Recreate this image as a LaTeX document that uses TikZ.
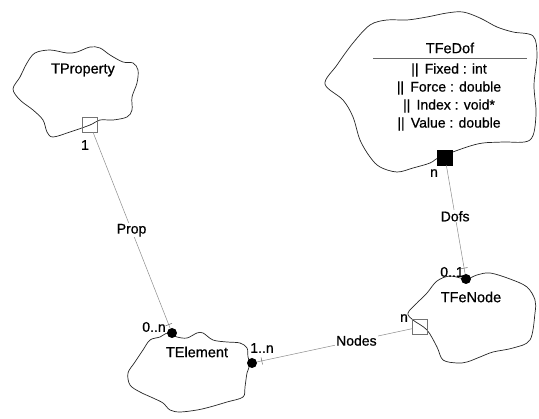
\documentclass[tikz,border=0pt]{standalone}
\usepackage{fontspec}
\setmainfont{Liberation Sans}[FakeBold=0.7]
\usepackage{tikz}
\usetikzlibrary{calc}
\tikzset{
  cloudline/.style={draw=black!85, line width=0.7pt},
  assoc/.style={draw=black!45, line width=0.5pt},
  classname/.style={font=\fontsize{14.5}{18}\selectfont},
  mult/.style={font=\fontsize{14}{16}\selectfont, inner sep=0pt},
  role/.style={font=\fontsize{14}{16}\selectfont, fill=white, inner sep=1pt},
  hasbox/.style={rectangle, draw=black!55, line width=0.5pt, minimum size=15pt, inner sep=0pt},
  refbox/.style={hasbox, draw=black, fill=black},
  enddot/.style={circle, fill=black, minimum size=10pt, inner sep=0pt},
  tickmark/.style={draw=black!60, line width=0.5pt},
}

\begin{document}
\begin{tikzpicture}[x=1pt, y=-1pt]
\useasboundingbox (0,0) rectangle (539,419);

% ── Class clouds ──────────────────────────────────────────────────────────────
\draw[cloudline] plot[smooth cycle, tension=0.55] coordinates {
  (13,89) (20,77) (27,63) (35,53) (50,50) (67,53) (77,52) (90,47) (100,48)
  (110,55) (123,62) (133,63) (138,70) (137,83) (132,97) (132,110) (127,117)
  (113,120) (100,120) (90,125) (70,132) (53,137) (47,132) (43,120) (33,110)
  (20,100)};

\draw[cloudline] plot[smooth cycle, tension=0.55] coordinates {
  (325,84) (337,65) (353,43) (370,25) (387,20) (407,20) (427,17) (447,13)
  (463,12) (480,18) (497,27) (513,32) (533,36) (537,55) (534,85) (536,115)
  (530,140) (503,142) (483,143) (467,147) (440,157) (430,163) (413,168)
  (397,172) (380,167) (370,157) (360,140) (353,117) (343,100)};

\draw[cloudline] plot[smooth cycle, tension=0.55] coordinates {
  (168,333) (177,337) (187,338) (197,333) (203,333) (213,340) (227,342)
  (240,343) (247,348) (248,357) (250,364) (247,373) (245,387) (243,397)
  (227,402) (210,407) (197,410) (180,412) (170,410) (163,403) (153,398)
  (140,392) (130,385) (128,373) (135,362) (143,350) (150,340) (160,337)};

\draw[cloudline] plot[smooth cycle, tension=0.55] coordinates {
  (437,281) (450,276) (466,279) (477,275) (490,273) (510,279) (527,287)
  (535,300) (535,313) (530,340) (513,348) (493,352) (480,357) (467,362)
  (457,363) (443,360) (437,347) (427,330) (413,320) (408,313) (417,303)
  (427,293)};

% ── Class names ───────────────────────────────────────────────────────────────
\node[classname] (tprop) at (83,70) {TProperty};
\node[classname] (telem) at (197,352) {TElement};
\node[classname] (tnode) at (471,297) {TFeNode};
\node[classname] (tdof) at (450,48) {TFeDof};
\draw[draw=black!60, line width=0.5pt] (373,58) -- (527,58);
\node[classname, align=center, font=\fontsize{14}{18}\selectfont] (tdofattr) at (449,97)
  {||\, Fixed : int\\ ||\, Force : double\\ ||\, Index : void*\\ ||\, Value : double};

% ── Relationship ends ─────────────────────────────────────────────────────────
\node[hasbox] (propsq) at (90,124.5) {};
\node[refbox] (dofsq) at (445,157.5) {};
\node[hasbox] (nodesq) at (420,327) {};
\node[enddot] (propdot) at (172,333) {};
\node[enddot] (nodesdot) at (252,363) {};
\node[enddot] (dofdot) at (466,279) {};

% ── Associations ──────────────────────────────────────────────────────────────
\draw[assoc] (propsq) -- (propdot) node[role, pos=0.5] {Prop};
\draw[assoc] (dofsq) -- (dofdot) node[role, pos=0.47] {Dofs};
\draw[assoc] (nodesdot) -- (nodesq) node[role, pos=0.64] {Nodes};

\draw[tickmark] ($(propdot)!9pt!(propsq)!3.5pt!90:(propsq)$) -- ($(propdot)!9pt!(propsq)!3.5pt!-90:(propsq)$);
\draw[tickmark] ($(nodesdot)!10pt!(nodesq)!3.5pt!90:(nodesq)$) -- ($(nodesdot)!10pt!(nodesq)!3.5pt!-90:(nodesq)$);
\draw[tickmark] ($(dofdot)!11pt!(dofsq)!3.5pt!90:(dofsq)$) -- ($(dofdot)!11pt!(dofsq)!3.5pt!-90:(dofsq)$);

% ── Multiplicities ────────────────────────────────────────────────────────────
\node[mult] (m1) at (85,145) {1};
\node[mult] (m2) at (154,327) {0..n};
\node[mult] (m3) at (262,348) {1..n};
\node[mult] (m4) at (434,173) {n};
\node[mult] (m5) at (452,272) {0..1};
\node[mult] (m6) at (404,318) {n};

\end{tikzpicture}
\end{document}
